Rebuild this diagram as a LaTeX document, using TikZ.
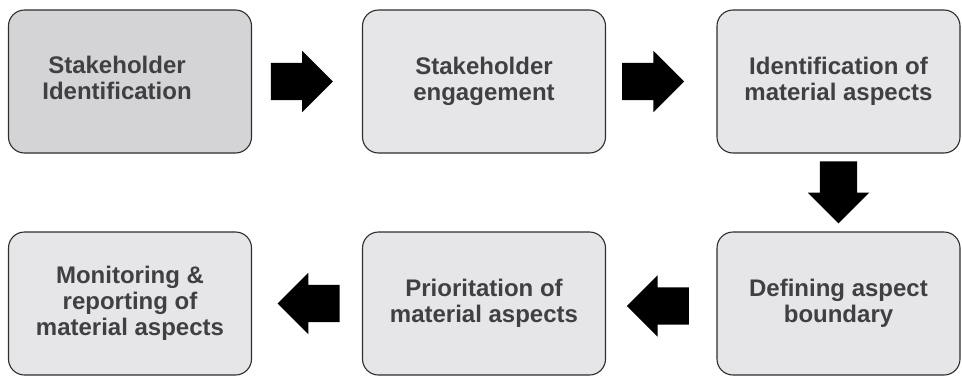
\documentclass[tikz,border=0pt]{standalone}
\usepackage{fontspec}
\setmainfont{Liberation Sans}
\usetikzlibrary{shapes.arrows,calc}
\definecolor{stepfill}{RGB}{230,230,232}
\definecolor{startfill}{RGB}{212,212,214}
\definecolor{edgegray}{RGB}{45,45,45}
\definecolor{textgray}{RGB}{64,64,66}
\tikzset{
    %Define style for boxes
    stepbox/.style={
           rectangle,
           rounded corners=16pt,
           draw=edgegray, line width=1.1pt,
           minimum width=243pt,
           minimum height=143pt,
           font=\bfseries\fontsize{24}{26}\selectfont,
           text=textgray,
           align=center,
           fill=stepfill},
    startbox/.style={
           stepbox,
           fill=startfill},
    % Define arrow style
    blockarrow/.style={
           single arrow,
           fill=black,
           inner xsep=0pt,
           inner ysep=18.5pt,
           minimum height=62pt,
           single arrow head extend=12pt}
}
\begin{document}
\begin{tikzpicture}[x=1pt,y=-1pt]
\useasboundingbox (0,0) rectangle (962,378);
\node[startbox] (s1) at (130,81.5) {\begin{tabular}{@{}c@{\hspace{26pt}}}Stakeholder\\Identification\end{tabular}};
\node[stepbox] (s2) at (484,81.5) {Stakeholder\\engagement};
\node[stepbox] (s3) at (838.5,81.5) {Identification of\\material aspects};
\node[stepbox] (s6) at (838.5,303.5) {Defining aspect\\boundary};
\node[stepbox] (s5) at (484,303.5) {Prioritation of\\material aspects};
\node[stepbox] (s4) at (130,303.5) {Monitoring \&\\reporting of\\material aspects};
% arrows between the steps
\node[blockarrow, xshift=-14.5pt] (a12) at ($(s1.east)!0.5!(s2.west)$) {};
\node[blockarrow, xshift=-17.5pt] (a23) at ($(s2.east)!0.5!(s3.west)$) {};
\node[blockarrow, rotate=270, xshift=-9.5pt] (a36) at ($(s3.south)!0.5!(s6.north)$) {};
\node[blockarrow, rotate=180, xshift=-6pt, yshift=2.5pt] (a65) at ($(s6.west)!0.5!(s5.east)$) {};
\node[blockarrow, rotate=180, xshift=-11pt] (a54) at ($(s5.west)!0.5!(s4.east)$) {};
\end{tikzpicture}
\end{document}
